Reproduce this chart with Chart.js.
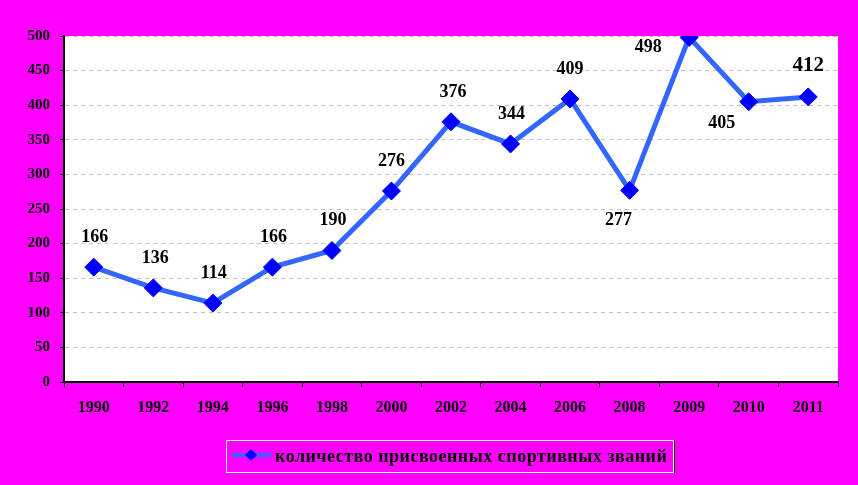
<!DOCTYPE html>
<html>
<head>
<meta charset="utf-8">
<script src="https://cdn.jsdelivr.net/npm/chart.js@4/dist/chart.umd.min.js"></script>
<style>
  html, body { margin: 0; padding: 0; background: #ff00ff; }
  #wrap { width: 858px; height: 485px; position: relative; }
</style>
</head>
<body>
<div id="wrap"><canvas id="chart" width="858" height="485"></canvas></div>
<script>
// data

const years = ['1990', '1992', '1994', '1996', '1998', '2000', '2002', '2004', '2006', '2008', '2009', '2010', '2011'];
const titles = [166, 136, 114, 166, 190, 276, 376, 344, 409, 277, 498, 405, 412];
const yTicks = [0, 50, 100, 150, 200, 250, 300, 350, 400, 450, 500];
const seriesName = 'количество присвоенных спортивных званий';

const serif = '"Liberation Serif", "Times New Roman", serif';

// where each value label sits relative to its point
const labelSpots = [
  [1, -30], [2, -30], [1, -30], [1, -30], [1, -30], [0, -30], [2, -29],
  [1, -30], [0, -30], [-11, 30], [-41, 10], [-27, 22], [0, -31]
];

// white plot area
const plotBg = {
  id: 'plotBg',
  beforeDraw(chart) {
    const { ctx, chartArea: a } = chart;
    ctx.save();
    ctx.fillStyle = '#ffffff';
    ctx.fillRect(a.left, a.top, a.right - a.left, a.bottom - a.top);
    ctx.restore();
  }
};

// numbers next to the points
const valueLabels = {
  id: 'valueLabels',
  afterDatasetsDraw(chart) {
    const ctx = chart.ctx;
    const meta = chart.getDatasetMeta(0);
    ctx.save();
    ctx.fillStyle = '#000';
    ctx.textAlign = 'center';
    ctx.textBaseline = 'middle';
    meta.data.forEach((pt, i) => {
      const [dx, dy] = labelSpots[i];
      ctx.font = (i === titles.length - 1 ? 'bold 21px ' : 'bold 18px ') + serif;
      ctx.fillText(String(titles[i]), pt.x + dx, pt.y + dy);
    });
    ctx.restore();
  }
};

// boxed legend under the axis
const boxLegend = {
  id: 'boxLegend',
  afterDraw(chart) {
    const ctx = chart.ctx;
    const ds = chart.data.datasets[0];
    ctx.save();
    ctx.strokeStyle = '#ffffff';
    ctx.lineWidth = 1;
    ctx.strokeRect(226.5, 440.5, 447, 32);
    ctx.strokeStyle = '#000';
    ctx.beginPath();
    ctx.moveTo(674.5, 440);
    ctx.lineTo(674.5, 473);
    ctx.stroke();

    ctx.strokeStyle = ds.borderColor;
    ctx.lineWidth = 4;
    ctx.beginPath();
    ctx.moveTo(232, 455);
    ctx.lineTo(271, 455);
    ctx.stroke();

    ctx.fillStyle = ds.pointBackgroundColor;
    ctx.beginPath();
    ctx.moveTo(251, 449);
    ctx.lineTo(257, 455);
    ctx.lineTo(251, 461);
    ctx.lineTo(245, 455);
    ctx.closePath();
    ctx.fill();

    ctx.fillStyle = '#000';
    ctx.font = 'bold 18px ' + serif;
    ctx.letterSpacing = '0.5px';
    ctx.textAlign = 'left';
    ctx.textBaseline = 'middle';
    ctx.fillText(ds.label, 275, 457);
    ctx.restore();
  }
};

const chart = new Chart(document.getElementById('chart'), {
  type: 'line',
  data: {
    labels: years,
    datasets: [{
      label: seriesName,
      data: titles,
      borderColor: '#3366ff',
      borderWidth: 5,
      tension: 0,
      pointStyle: 'rectRot',
      pointRadius: 9,
      pointHoverRadius: 9,
      pointBackgroundColor: '#0000ff',
      pointBorderColor: '#0000ff',
      pointBorderWidth: 1
    }]
  },
  options: {
    responsive: false,
    animation: false,
    events: [],
    layout: { padding: { top: 36, right: 20, left: 0, bottom: 0 } },
    plugins: {
      legend: { display: false },
      tooltip: { enabled: false }
    },
    scales: {
      x: {
        offset: true,
        afterFit(scale) { scale.height = 103; },
        grid: {
          offset: true,
          drawOnChartArea: false,
          tickLength: 5,
          tickColor: '#000',
          tickWidth: 1
        },
        border: { color: '#000', width: 2 },
        ticks: {
          color: '#000',
          padding: 11,
          maxRotation: 0,
          autoSkip: false,
          font: { family: serif, size: 16, weight: 'bold' }
        }
      },
      y: {
        min: 0,
        max: 500,
        afterFit(scale) { scale.width = 64; },
        afterBuildTicks(scale) { scale.ticks = yTicks.map(v => ({ value: v })); },
        grid: {
          color: '#c0c0c0',
          lineWidth: 1,
          tickLength: 4,
          tickColor: '#000',
          tickWidth: 1,
          tickBorderDash: []
        },
        border: { color: '#000', width: 2, dash: [4, 4] },
        ticks: {
          color: '#000',
          padding: 10,
          font: { family: serif, size: 15, weight: 'bold' }
        }
      }
    }
  },
  plugins: [plotBg, valueLabels, boxLegend]
});
</script>
</body>
</html>
